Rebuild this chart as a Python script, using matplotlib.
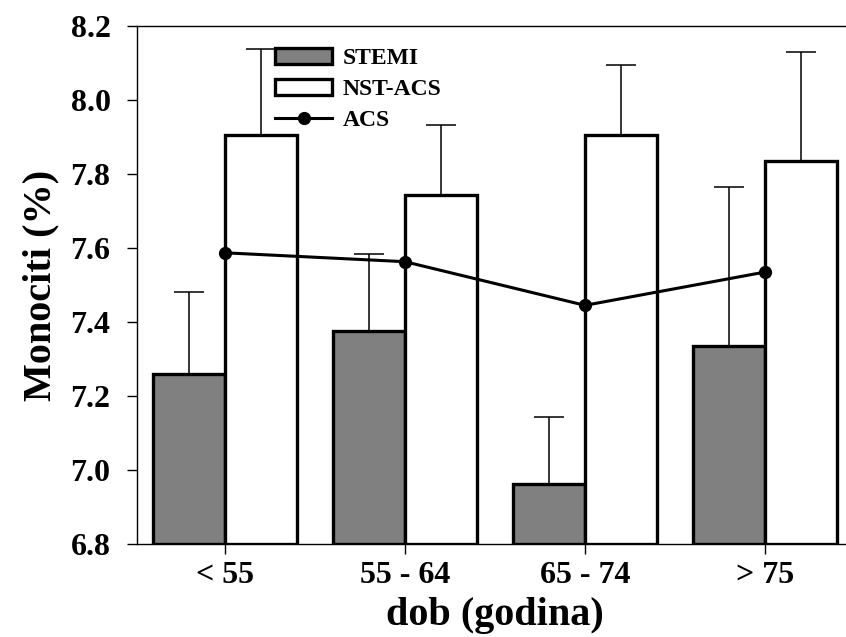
import matplotlib
matplotlib.use("Agg")
import matplotlib.pyplot as plt
import numpy as np

categories = ["< 55", "55 - 64", "65 - 74", "> 75"]
stemi = [7.26, 7.375, 6.963, 7.335]
stemi_err = [0.22, 0.21, 0.18, 0.43]
nst_acs = [7.905, 7.742, 7.905, 7.835]
nst_acs_err = [0.232, 0.19, 0.19, 0.295]
acs = [7.587, 7.563, 7.445, 7.535]
yticks = [6.8, 7.0, 7.2, 7.4, 7.6, 7.8, 8.0, 8.2]

plt.rcParams['font.family'] = ['Liberation Serif', 'DejaVu Serif']
plt.rcParams['font.weight'] = 'bold'

fig = plt.figure(figsize=(8.46, 6.37), dpi=100)
ax = fig.add_axes([137/846, 93/637, 716/846, 518/637])

x = np.arange(len(categories))
w = 0.4
base = 6.8
lw_bar = 2.4

ax.errorbar(x - w/2, stemi, yerr=[np.zeros(4), stemi_err], fmt='none',
            ecolor='black', elinewidth=1.1, capsize=11, capthick=1.1, zorder=1)
ax.errorbar(x + w/2, nst_acs, yerr=[np.zeros(4), nst_acs_err], fmt='none',
            ecolor='black', elinewidth=1.1, capsize=11, capthick=1.1, zorder=1)
b1 = ax.bar(x - w/2, np.array(stemi) - base, w, bottom=base, color='#808080',
            edgecolor='black', linewidth=lw_bar, zorder=2, label='STEMI')
b2 = ax.bar(x + w/2, np.array(nst_acs) - base, w, bottom=base, color='white',
            edgecolor='black', linewidth=lw_bar, zorder=2, label='NST-ACS')
l1, = ax.plot(x, acs, color='black', linewidth=2.2, marker='o', markersize=8.5,
              zorder=3, label='ACS')

ax.set_xlim(-0.489, 3.489)
ax.set_ylim(6.8, 8.2)
ax.set_yticks(yticks)
ax.set_yticklabels([f"{v:.1f}" for v in yticks], fontsize=23, fontweight='bold')
ax.set_xticks(x)
ax.set_xticklabels(categories, fontsize=23, fontweight='bold')
ax.tick_params(axis='y', direction='out', length=7, width=1.0, pad=12)
ax.tick_params(axis='x', direction='out', length=7, width=1.0, pad=5)
ax.spines['right'].set_visible(False)
for s in ['left', 'bottom', 'top']:
    ax.spines[s].set_linewidth(1.0)

ax.set_ylabel("Monociti (%)", fontsize=29, fontweight='bold', labelpad=8)
ax.set_xlabel("dob (godina)", fontsize=29, fontweight='bold', labelpad=5)

leg = ax.legend(handles=[b1, b2, l1], labels=['STEMI', 'NST-ACS', 'ACS'],
                loc='upper left', bbox_to_anchor=(0.193, 0.958), frameon=False,
                fontsize=17, handlelength=2.42, handletextpad=0.45,
                labelspacing=0.4, borderpad=0, borderaxespad=0)
for t in leg.get_texts():
    t.set_fontweight('bold')

fig.savefig("out.png", dpi=100)
